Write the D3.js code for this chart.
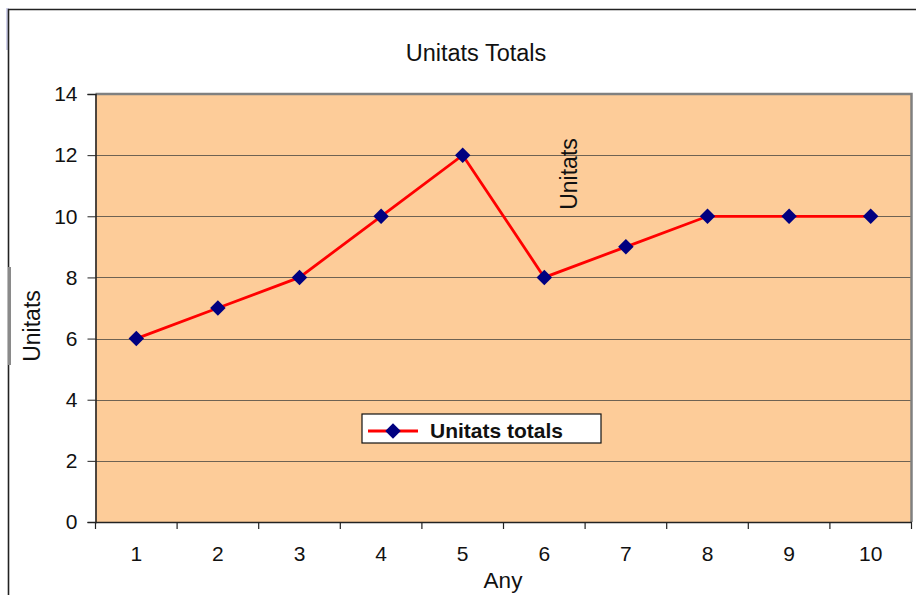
<!DOCTYPE html>
<html>
<head>
<meta charset="utf-8">
<script src="https://cdn.jsdelivr.net/npm/d3@7"></script>
<style>
  html, body { margin: 0; padding: 0; background: #fff; }
  svg { display: block; font-family: "Liberation Sans", Arial, sans-serif; }
</style>
</head>
<body>
<svg id="chart" width="916" height="595"></svg>
<script>
// Yearly unit totals
const years = ["1", "2", "3", "4", "5", "6", "7", "8", "9", "10"];
const units = [6, 7, 8, 10, 12, 8, 9, 10, 10, 10];
const yTicks = [0, 2, 4, 6, 8, 10, 12, 14];

const chartTitle = "Unitats Totals";
const xTitle = "Any";
const yTitle = "Unitats";
const seriesName = "Unitats totals";

const svg = d3.select("#chart");
const plot = { left: 95.5, right: 911.5, top: 94, bottom: 522 };

const x = d3.scaleBand().domain(years).range([plot.left, plot.right]);
const y = d3.scaleLinear().domain([0, 14]).range([plot.bottom, plot.top]);

// outer frame
svg.append("rect").attr("x", 6).attr("y", 8).attr("width", 3).attr("height", 42).attr("fill", "#cfd0ea");
svg.append("path").attr("d", "M8.5,600 V9.5 H920").attr("fill", "none").attr("stroke", "#222").attr("stroke-width", 1.6);
svg.append("rect").attr("x", 8).attr("y", 267).attr("width", 3).attr("height", 98).attr("fill", "#8a8a8a");

// plot background
svg.append("rect")
  .attr("x", plot.left).attr("y", plot.top)
  .attr("width", plot.right - plot.left).attr("height", plot.bottom - plot.top)
  .attr("fill", "#fdcc99");

// horizontal gridlines
svg.append("g").selectAll("line").data(yTicks.filter(d => d > 0 && d < 14)).join("line")
  .attr("x1", plot.left).attr("x2", plot.right)
  .attr("y1", d => Math.round(y(d)) + 0.5).attr("y2", d => Math.round(y(d)) + 0.5)
  .attr("stroke", "#6e6253").attr("stroke-width", 1.2);

// top and right border of the plot area
svg.append("path")
  .attr("d", `M${plot.left},${plot.top} H${plot.right} V${plot.bottom}`)
  .attr("fill", "none").attr("stroke", "#808080").attr("stroke-width", 2.5);

// y axis
const yAxis = svg.append("g").attr("transform", `translate(${plot.left},0)`)
  .call(d3.axisLeft(y).tickValues(yTicks).tickSize(8).tickPadding(10).tickFormat(d3.format("d")));
yAxis.select(".domain").attr("stroke", "#222").attr("stroke-width", 1.6);
yAxis.selectAll(".tick line").attr("stroke", "#222");
yAxis.selectAll(".tick text").attr("font-size", 21).attr("fill", "#111").attr("font-family", "Liberation Sans, Arial, sans-serif");

// x axis: ticks on category boundaries
const xAxis = svg.append("g").attr("transform", `translate(0,${plot.bottom})`)
  .call(d3.axisBottom(x).tickSize(0).tickPadding(24));
xAxis.select(".domain").attr("stroke", "#222").attr("stroke-width", 1.6);
xAxis.selectAll(".tick text").attr("font-size", 21).attr("fill", "#111").attr("font-family", "Liberation Sans, Arial, sans-serif");
const bounds = years.map(d => x(d)).concat([x(years[years.length - 1]) + x.bandwidth()]);
xAxis.selectAll(".bound").data(bounds).join("line")
  .attr("class", "bound")
  .attr("x1", d => d).attr("x2", d => d).attr("y1", 0).attr("y2", 7)
  .attr("stroke", "#222").attr("stroke-width", 1.2);

// series line and markers
const cx = d => x(d) + x.bandwidth() / 2;
const line = d3.line().x((d, i) => cx(years[i])).y(d => y(d));
svg.append("path").datum(units)
  .attr("d", line).attr("fill", "none").attr("stroke", "#ff0000").attr("stroke-width", 2.8);

const diamond = d3.symbol().type(d3.symbolSquare).size(120);
svg.append("g").selectAll("path").data(units).join("path")
  .attr("d", diamond)
  .attr("transform", (d, i) => `translate(${cx(years[i])},${y(d)}) rotate(45)`)
  .attr("fill", "#000080");

// titles
svg.append("text").attr("x", 476).attr("y", 61).attr("text-anchor", "middle")
  .attr("font-size", 23.5).attr("fill", "#111").text(chartTitle);
svg.append("text").attr("x", 503).attr("y", 588).attr("text-anchor", "middle")
  .attr("font-size", 22.5).attr("fill", "#111").text(xTitle);
svg.append("text").attr("transform", "translate(40,326) rotate(-90)").attr("text-anchor", "middle")
  .attr("font-size", 23).attr("fill", "#111").text(yTitle);
svg.append("text").attr("transform", "translate(577,174) rotate(-90)").attr("text-anchor", "middle")
  .attr("font-size", 23).attr("fill", "#111").text(yTitle);

// legend
const lg = svg.append("g").attr("transform", "translate(362,414)");
lg.append("rect").attr("x", 0).attr("y", 0).attr("width", 239).attr("height", 29)
  .attr("fill", "#fff").attr("stroke", "#111").attr("stroke-width", 1.2);
lg.append("line").attr("x1", 6).attr("x2", 56).attr("y1", 17).attr("y2", 17)
  .attr("stroke", "#ff0000").attr("stroke-width", 2.8);
lg.append("path").attr("d", diamond).attr("transform", "translate(31,17) rotate(45)").attr("fill", "#000080");
lg.append("text").attr("x", 68).attr("y", 24).attr("font-size", 21).attr("font-weight", "bold")
  .attr("fill", "#111").text(seriesName);
</script>
</body>
</html>
